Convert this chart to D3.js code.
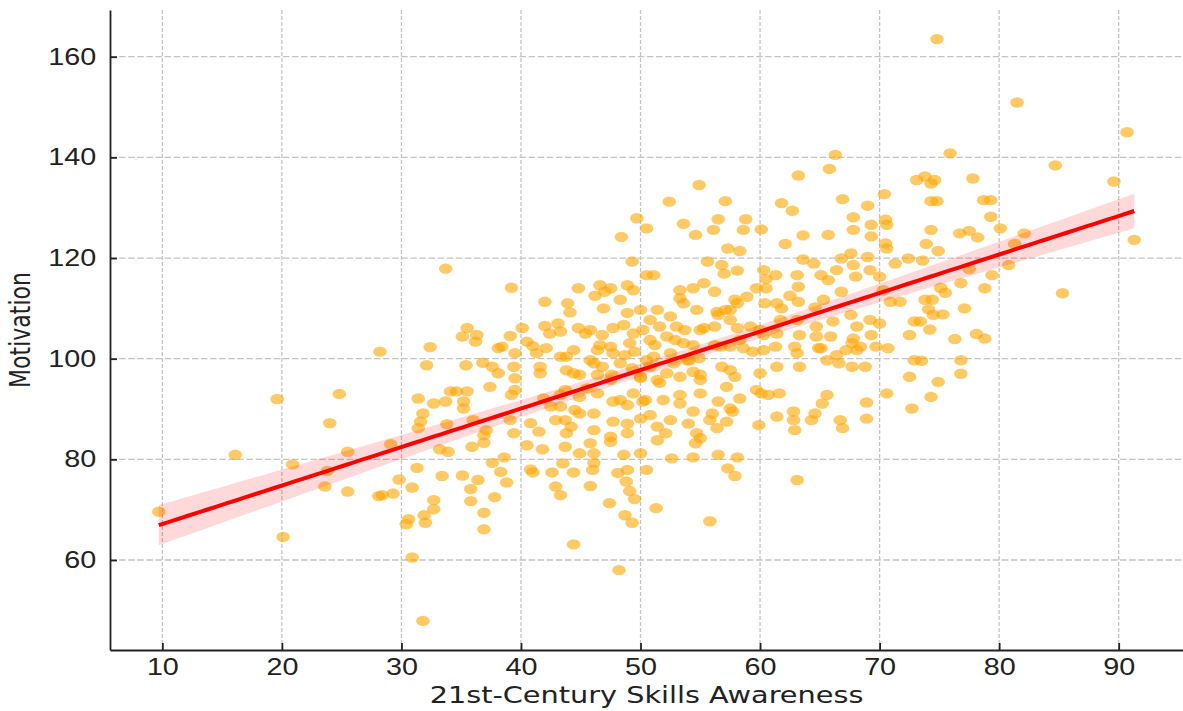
<!DOCTYPE html>
<html>
<head>
<meta charset="utf-8">
<script src="https://cdn.jsdelivr.net/npm/d3@7"></script>
<style>
  body { margin: 0; background: #fff; }
  svg { display: block; font-family: "DejaVu Sans", sans-serif; }
</style>
</head>
<body>
<script>
// points as [skills awareness, motivation], grouped by awareness band

var pointsBelow30 = [
  [9.7, 69.6], [16.1, 80.9], [19.6, 92.0], [20.1, 64.6], [20.9, 79.0], [23.6, 74.6], [23.8, 77.7],
  [24.0, 87.2], [24.8, 93.0], [25.5, 81.5], [25.5, 73.6], [28.1, 72.7], [28.2, 101.4], [28.4, 72.9],
  [29.3, 73.2], [29.1, 83.0], [29.8, 76.0]
]

var points30to40 = [
  [31.3, 78.3], [30.9, 74.4], [33.2, 82.0], [33.9, 81.5], [33.4, 76.7], [32.7, 71.9], [32.7, 70.1],
  [30.6, 68.1], [30.4, 67.1], [31.9, 68.9], [32.0, 67.4], [30.9, 60.5], [31.8, 47.9], [35.1, 76.8],
  [35.9, 82.5], [36.9, 83.3], [36.4, 75.9], [35.8, 74.1], [35.8, 71.7], [37.8, 72.5], [36.9, 69.4],
  [36.9, 66.1], [37.6, 79.3], [38.6, 80.4], [38.3, 77.5], [38.8, 75.4], [33.7, 117.9], [39.2, 114.1],
  [35.5, 106.1], [35.1, 104.4], [36.3, 104.7], [36.2, 103.4], [38.4, 102.4], [38.1, 102.1], [32.4, 102.3],
  [39.5, 101.1], [32.1, 98.7], [35.4, 98.7], [36.8, 99.2], [37.6, 98.4], [38.1, 97.1], [39.4, 98.4],
  [39.5, 96.1], [37.4, 94.4], [39.2, 92.8], [39.5, 93.8], [31.4, 92.1], [32.7, 91.1], [33.7, 91.5],
  [34.1, 93.5], [34.6, 93.5], [35.5, 93.5], [35.2, 91.5], [35.2, 90.1], [31.8, 89.1], [31.6, 87.5],
  [31.4, 86.2], [33.8, 87.0], [36.0, 87.8], [37.1, 85.8], [39.1, 87.8], [39.4, 85.2], [36.9, 84.8],
  [39.1, 104.5]
]

var points40to50 = [
  [40.5, 82.8], [41.8, 82.0], [40.8, 78.0], [41.0, 77.4], [42.6, 77.4], [42.9, 74.6], [43.3, 72.9],
  [43.5, 79.2], [43.7, 82.5], [44.4, 77.4], [44.9, 81.2], [45.8, 74.7], [46.0, 77.9], [46.1, 79.3],
  [46.1, 81.2], [45.8, 83.2], [44.4, 63.1], [47.4, 71.3], [48.1, 77.3], [48.6, 80.9], [48.9, 77.9],
  [48.8, 75.6], [49.1, 73.7], [49.5, 72.1], [48.7, 68.9], [49.3, 67.4], [48.2, 58.0], [47.5, 83.5],
  [48.4, 124.2], [49.3, 119.3], [49.7, 127.9], [44.8, 114.0], [46.6, 114.6], [47.5, 114.0], [48.9, 114.6],
  [49.4, 113.6], [46.2, 112.5], [47.0, 113.3], [48.3, 111.7], [42.0, 111.3], [43.9, 111.0], [44.1, 109.2],
  [46.9, 110.0], [48.9, 109.1], [42.0, 106.5], [43.1, 107.0], [42.4, 105.0], [43.3, 105.4], [44.8, 106.1],
  [45.4, 105.0], [46.8, 104.7], [47.7, 106.1], [48.6, 106.7], [49.4, 105.0], [40.1, 106.1], [40.5, 103.4],
  [41.0, 102.5], [41.3, 101.1], [42.1, 102.1], [44.4, 101.7], [43.8, 100.4], [45.8, 99.7], [46.4, 101.7],
  [47.5, 102.4], [47.7, 101.1], [49.1, 103.1], [49.5, 101.4], [41.6, 98.4], [41.6, 97.1], [43.3, 100.4],
  [43.8, 97.7], [44.4, 97.1], [44.9, 96.8], [46.1, 99.1], [46.8, 98.4], [47.6, 96.8], [48.3, 99.1],
  [49.3, 98.1], [41.9, 92.1], [42.5, 90.5], [43.3, 90.5], [43.7, 93.8], [42.9, 87.8], [43.7, 87.8],
  [44.2, 86.5], [44.9, 89.1], [46.1, 89.1], [44.9, 92.4], [45.5, 94.1], [46.4, 93.1], [47.7, 91.5],
  [48.9, 90.8], [49.4, 93.1], [47.7, 87.5], [48.9, 87.1], [46.1, 85.8], [47.5, 84.5], [48.9, 85.2],
  [43.8, 85.2], [40.8, 87.2], [41.5, 85.5]
]

var points50to60 = [
  [50.0, 81.2], [50.5, 77.9], [51.4, 83.8], [54.6, 83.2], [52.6, 80.2], [54.4, 80.4], [51.3, 70.3],
  [55.8, 67.7], [56.5, 80.9], [58.1, 80.4], [57.3, 78.2], [57.9, 76.7], [50.5, 125.9], [50.5, 116.6],
  [50.0, 109.7], [50.2, 105.7], [50.5, 99.7], [50.0, 96.4], [50.2, 91.5], [50.0, 88.1], [54.9, 134.5],
  [52.4, 131.2], [57.1, 131.3], [56.5, 127.7], [58.8, 127.7], [53.6, 126.8], [54.6, 124.6], [56.1, 125.6],
  [58.6, 125.6], [57.3, 121.9], [58.3, 121.4], [51.1, 116.6], [55.6, 119.3], [56.8, 118.6], [58.1, 117.5],
  [53.3, 113.6], [53.3, 112.0], [54.4, 114.0], [55.3, 115.0], [56.2, 113.3], [57.0, 116.9], [59.7, 114.0],
  [58.9, 112.3], [58.1, 111.0], [57.5, 109.7], [56.4, 109.3], [54.7, 109.7], [53.6, 111.0], [52.5, 108.4],
  [51.4, 109.7], [50.8, 107.7], [51.6, 106.4], [53.0, 106.4], [53.7, 105.7], [55.3, 106.1], [56.2, 106.4],
  [56.5, 108.7], [57.5, 107.7], [58.1, 106.1], [59.2, 106.4], [59.4, 101.4], [58.6, 102.1], [57.5, 102.4],
  [56.7, 102.4], [54.4, 102.7], [53.6, 103.1], [52.2, 104.4], [50.8, 103.7], [51.1, 100.4], [52.5, 101.1],
  [52.8, 99.1], [53.9, 99.7], [54.9, 100.1], [56.8, 98.4], [57.5, 97.7], [57.2, 94.4], [57.9, 96.4],
  [58.3, 92.1], [57.5, 90.1], [56.5, 91.5], [55.0, 93.1], [55.0, 95.8], [54.4, 97.4], [53.3, 96.4],
  [52.2, 97.1], [51.4, 95.8], [50.8, 98.4], [51.9, 91.8], [53.3, 91.1], [54.4, 89.5], [56.0, 89.1],
  [57.7, 89.5], [55.8, 87.8], [54.0, 87.1], [52.5, 87.8], [51.4, 86.5], [52.1, 85.2], [54.7, 85.2],
  [56.4, 86.2], [57.2, 87.5], [59.7, 93.8], [59.9, 86.8], [55.0, 84.2]
]

var points60to70 = [
  [66.3, 140.5], [65.8, 137.7], [63.2, 136.4], [61.8, 130.9], [62.7, 129.4], [66.9, 131.7], [69.0, 130.4],
  [67.8, 128.1], [60.1, 125.7], [62.1, 122.8], [63.6, 124.5], [65.7, 124.6], [67.8, 125.6], [69.3, 126.6],
  [69.3, 124.3], [60.3, 117.6], [60.5, 115.8], [60.5, 114.0], [61.3, 116.6], [63.1, 116.6], [63.2, 114.3],
  [62.5, 112.5], [63.6, 119.7], [64.5, 118.9], [65.1, 116.6], [65.7, 115.6], [66.4, 117.6], [66.8, 119.9],
  [67.6, 120.9], [67.8, 118.6], [68.0, 116.3], [69.0, 120.2], [69.2, 117.6], [66.8, 113.3], [65.3, 111.7],
  [64.6, 110.2], [63.2, 111.3], [61.4, 111.0], [61.8, 110.0], [60.4, 111.0], [60.3, 104.7], [61.4, 105.0],
  [63.1, 107.7], [64.7, 106.4], [66.1, 107.4], [67.6, 108.7], [68.1, 106.4], [69.2, 107.7], [69.3, 104.7],
  [67.8, 104.0], [65.9, 104.4], [63.3, 104.7], [64.7, 104.4], [64.9, 102.1], [62.9, 102.4], [61.3, 102.4],
  [60.3, 101.7], [60.0, 97.1], [60.1, 93.1], [60.7, 92.8], [61.6, 93.1], [61.4, 98.4], [63.1, 101.1],
  [63.3, 98.4], [65.1, 102.1], [65.6, 99.7], [66.4, 100.7], [67.2, 101.7], [68.1, 101.7], [67.7, 103.1],
  [68.4, 102.4], [66.6, 99.1], [68.8, 98.4], [67.7, 98.4], [69.7, 102.4], [68.9, 91.3], [65.6, 92.8],
  [65.2, 91.1], [64.6, 89.1], [68.9, 88.1], [66.7, 87.8], [66.9, 86.2], [62.8, 89.5], [62.8, 87.8],
  [61.4, 88.5], [64.3, 87.8], [62.9, 85.8], [63.1, 75.9]
]

var pointsAbove70 = [
  [70.4, 132.7], [73.1, 135.5], [70.5, 127.6], [70.6, 126.6], [70.5, 122.9], [70.6, 121.9], [70.0, 116.3],
  [70.3, 113.6], [71.3, 118.9], [72.4, 119.9], [70.9, 111.3], [71.7, 111.3], [72.5, 104.7], [72.9, 107.4],
  [70.0, 107.0], [70.7, 102.1], [72.9, 99.7], [72.5, 96.4], [70.6, 93.1], [72.7, 90.1], [74.8, 163.5],
  [81.5, 150.9], [90.7, 145.0], [75.9, 140.8], [84.7, 138.4], [89.6, 135.2], [77.8, 135.8], [73.8, 136.2],
  [74.6, 135.5], [74.3, 134.8], [74.3, 131.3], [74.8, 131.3], [78.7, 131.5], [79.3, 131.5], [79.3, 128.2],
  [74.3, 125.6], [73.9, 122.8], [74.9, 121.4], [73.6, 119.5], [76.7, 124.9], [77.5, 125.4], [78.2, 124.1],
  [80.1, 125.9], [82.1, 124.9], [81.3, 122.8], [80.8, 118.6], [91.3, 123.6], [77.5, 117.8], [79.4, 116.6],
  [78.8, 114.0], [76.8, 115.0], [75.1, 114.1], [75.5, 113.1], [85.3, 113.0], [73.8, 111.7], [74.4, 111.7],
  [74.1, 109.8], [74.5, 108.7], [75.3, 108.8], [77.1, 110.0], [73.4, 107.4], [74.2, 105.8], [76.3, 103.9],
  [78.1, 104.9], [78.8, 104.0], [73.5, 99.6], [76.8, 99.7], [76.8, 97.0], [74.9, 95.4], [74.3, 92.4]
]

// overlapping dots in the darkest middle of the cloud
var pointsDenseCore = [
  [46.4, 96.8], [47.5, 95.8], [50.0, 96.2], [51.6, 95.2], [50.4, 91.8], [54.1, 99.7], [55.0, 96.8],
  [57.1, 109.7], [57.9, 111.7], [45.8, 105.7], [46.6, 102.7], [48.7, 100.7], [51.2, 102.7], [52.9, 103.7],
  [55.0, 105.7], [56.2, 102.7], [58.3, 103.7], [60.0, 105.7], [61.7, 107.7], [43.3, 92.8], [44.5, 89.8],
  [48.3, 91.8], [50.8, 88.8], [53.3, 92.8]
]

var xTicks = [10, 20, 30, 40, 50, 60, 70, 80, 90]
var yTicks = [60, 80, 100, 120, 140, 160]
var xLabel = '21st-Century Skills Awareness'
var yLabel = 'Motivation'

// page setup

var width = 1183
var height = 711
var margin = { top: 10, right: 0, bottom: 61, left: 110 }
var stretch = 1.25 // the picture is wider than tall, so text and dots come out stretched sideways
var fontSize = 23

var svg = d3.select('body').append('svg')
  .attr('width', width)
  .attr('height', height)

var points = [].concat(pointsBelow30, points30to40, points40to50, points50to60, points60to70,
  pointsAbove70, pointsDenseCore)

// axis limits padded by 5% of the data range
function padded(extent) {
  var pad = (extent[1] - extent[0]) * 0.05
  return [extent[0] - pad, extent[1] + pad]
}

var x = d3.scaleLinear()
  .domain(padded(d3.extent(points, function(d) { return d[0] })))
  .range([margin.left, width - margin.right])

var y = d3.scaleLinear()
  .domain(padded(d3.extent(points, function(d) { return d[1] })))
  .range([height - margin.bottom, margin.top])

// grid

svg.append('g')
  .selectAll('line')
  .data(xTicks)
  .enter().append('line')
  .attr('x1', function(d) { return x(d) })
  .attr('x2', function(d) { return x(d) })
  .attr('y1', y.range()[0])
  .attr('y2', y.range()[1])
  .style('stroke', '#c4c4c4')
  .style('stroke-width', 1.3)
  .style('stroke-dasharray', '4,2')

svg.append('g')
  .selectAll('line')
  .data(yTicks)
  .enter().append('line')
  .attr('x1', x.range()[0])
  .attr('x2', x.range()[1])
  .attr('y1', function(d) { return y(d) })
  .attr('y2', function(d) { return y(d) })
  .style('stroke', '#c4c4c4')
  .style('stroke-width', 1.3)
  .style('stroke-dasharray', '6.5,2.6')

// dots

svg.append('g')
  .selectAll('ellipse')
  .data(points)
  .enter().append('ellipse')
  .attr('cx', function(d) { return x(d[0]) })
  .attr('cy', function(d) { return y(d[1]) })
  .attr('rx', 6.8)
  .attr('ry', 5.2)
  .style('fill', 'orange')
  .style('fill-opacity', 0.6)

// least squares fit and its 95% band

var n = points.length
var meanX = d3.mean(points, function(d) { return d[0] })
var meanY = d3.mean(points, function(d) { return d[1] })
var sxx = d3.sum(points, function(d) { return (d[0] - meanX) * (d[0] - meanX) })
var sxy = d3.sum(points, function(d) { return (d[0] - meanX) * (d[1] - meanY) })
var slope = sxy / sxx
var intercept = meanY - slope * meanX
var sse = d3.sum(points, function(d) {
  var r = d[1] - (intercept + slope * d[0])
  return r * r
})
var se = Math.sqrt(sse / (n - 2))

var xMin = d3.min(points, function(d) { return d[0] })
var xMax = d3.max(points, function(d) { return d[0] })
var fitX = d3.range(0, 101).map(function(i) { return xMin + (xMax - xMin) * i / 100 })
var fit = fitX.map(function(v) {
  var half = 1.96 * se * Math.sqrt(1 / n + (v - meanX) * (v - meanX) / sxx)
  var mid = intercept + slope * v
  return { x: v, y: mid, lo: mid - half, hi: mid + half }
})

svg.append('path')
  .datum(fit)
  .attr('d', d3.area()
    .x(function(d) { return x(d.x) })
    .y0(function(d) { return y(d.lo) })
    .y1(function(d) { return y(d.hi) }))
  .style('fill', 'red')
  .style('fill-opacity', 0.15)

svg.append('path')
  .datum(fit)
  .attr('d', d3.line()
    .x(function(d) { return x(d.x) })
    .y(function(d) { return y(d.y) }))
  .style('fill', 'none')
  .style('stroke', 'red')
  .style('stroke-width', 4)

// axes, ticks pointing inwards

var xAxis = svg.append('g')
  .attr('transform', `translate(0, ${height - margin.bottom})`)
  .call(d3.axisBottom(x).tickValues(xTicks).tickSize(-7).tickPadding(9).tickSizeOuter(0))

var yAxis = svg.append('g')
  .attr('transform', `translate(${margin.left}, 0)`)
  .call(d3.axisLeft(y).tickValues(yTicks).tickSize(-7).tickPadding(11).tickSizeOuter(0))

svg.selectAll('.domain, .tick line')
  .style('stroke', '#222')
  .style('stroke-width', 1.8)

svg.selectAll('.tick text')
  .style('font-size', fontSize + 'px')
  .style('fill', '#222')
  .attr('transform', `scale(${stretch}, 1)`)

// labels

svg.append('text')
  .attr('transform', `translate(${(x.range()[0] + x.range()[1]) / 2}, 703) scale(${stretch}, 1)`)
  .attr('text-anchor', 'middle')
  .style('font-size', fontSize + 'px')
  .style('fill', '#222')
  .text(xLabel)

svg.append('text')
  .attr('transform', `translate(30, ${(y.range()[0] + y.range()[1]) / 2}) scale(${stretch}, 1) rotate(-90)`)
  .attr('text-anchor', 'middle')
  .style('font-size', '22px')
  .style('fill', '#222')
  .text(yLabel)
</script>
</body>
</html>
